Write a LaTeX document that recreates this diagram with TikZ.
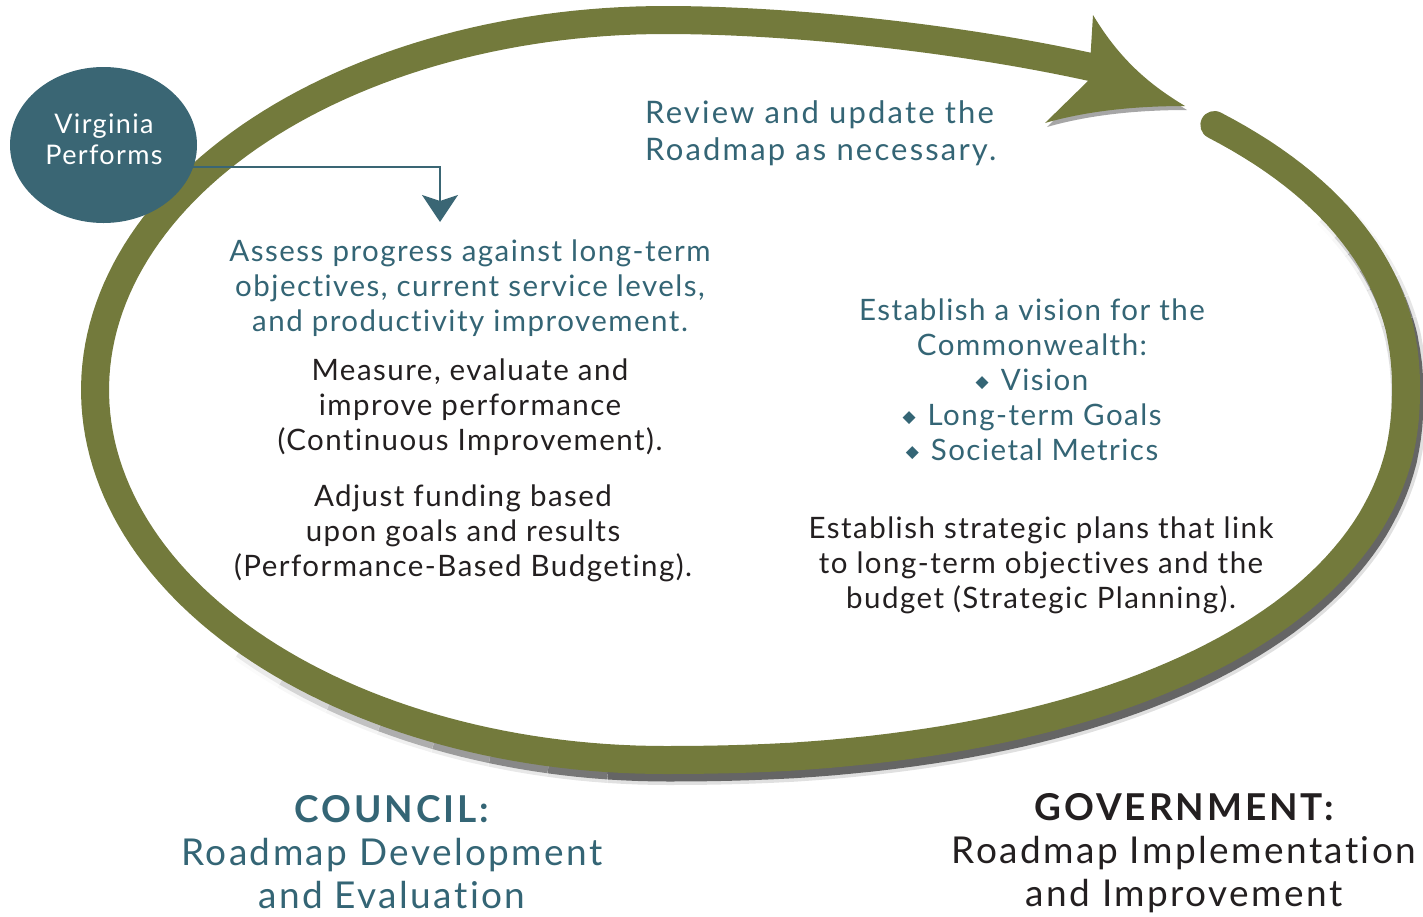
\documentclass[tikz,border=0pt]{standalone}
\usepackage{fontspec}
\setmainfont{Lato}[Ligatures=CommonOff]
\newfontfamily\symfont{DejaVu Sans}
\usetikzlibrary{arrows.meta,shapes.geometric}
\definecolor{ringgreen}{RGB}{115,122,60}
\definecolor{vpteal}{RGB}{58,102,116}
\definecolor{textteal}{RGB}{52,101,117}
\definecolor{textdark}{RGB}{35,31,32}
\newcommand{\diam}{{\symfont\fontsize{17}{17}\selectfont\raisebox{3pt}{◆}}\hspace{12pt}}
\begin{document}
\begin{tikzpicture}[x=1pt,y=-1pt,
  ring/.style={line width=28pt, draw=ringgreen, line cap=round},
  ringshadow/.style={line width=#1, draw=black, xshift=3pt, yshift=-7pt},
  body/.style={font=\fontsize{29.5}{35}\selectfont\addfontfeatures{LetterSpace=5},
               align=center, inner sep=0pt},
  tealtext/.style={body, text=textteal},
  darktext/.style={body, text=textdark},
  bigtext/.style={font=\fontsize{37}{43}\selectfont\addfontfeatures{LetterSpace=6.5},
                  align=center, inner sep=0pt},
  vpline/.style={draw=vpteal, line width=2pt, -{Stealth[length=27pt,width=36pt,inset=6pt]}},
  declare function={
    rsx(\t)=665+741*pow(cos(\t),0.909);
    rtop(\t)=390-369*pow(sin(\t),0.909);
    rbot(\t)=390+370*pow(sin(\t),0.909);
    lx(\t)=665+570*cos(\t);
    ly(\t)=390+370*sin(\t);
  }]
\useasboundingbox (0,0) rectangle (1423,916);

% soft drop shadow along the lower right of the loop, fading out at both ends
\foreach \w/\o in {36pt/0.12, 29pt/0.55} {
  \draw[ringshadow=\w, opacity=\o]
    plot[domain=10:0.5,samples=12] ({rsx(\x)},{rtop(\x)})
    -- plot[domain=0.5:89.5,samples=60] ({rsx(\x)},{rbot(\x)})
    -- plot[domain=90:96,samples=5] ({lx(\x)},{ly(\x)});
  \foreach \a/\f in {10/0.85, 13/0.7, 16/0.55, 19/0.4, 22/0.25, 25/0.1} {
    \draw[ringshadow=\w, opacity=\f*\o]
      plot[domain=\a+3:\a,samples=4] ({rsx(\x)},{rtop(\x)});
  }
  \foreach \a/\f in {96/0.88, 102/0.75, 108/0.62, 114/0.5, 120/0.37, 126/0.25, 132/0.12} {
    \draw[ringshadow=\w, opacity=\f*\o]
      plot[domain=\a:\a+6,samples=5] ({lx(\x)},{ly(\x)});
  }
}

% the loop itself, from the rounded start round to the arrow shaft
\draw[ring]
  plot[domain=44:0.5,samples=30] ({rsx(\x)},{rtop(\x)})
  -- plot[domain=0.5:89.5,samples=60] ({rsx(\x)},{rbot(\x)})
  -- plot[domain=90:270,samples=120] ({lx(\x)},{ly(\x)})
  .. controls (790,20) and (960,38) .. (1095,68);

% arrow head with its shadow
\fill[black, opacity=0.35, xshift=2pt, yshift=-4pt]
  (1093,15) .. controls (1120,60) and (1150,85) .. (1185,106)
  .. controls (1140,106) and (1090,110) .. (1045,123) -- (1089,80) -- cycle;
\fill[ringgreen]
  (1093,15) .. controls (1120,60) and (1150,85) .. (1185,106)
  .. controls (1140,106) and (1090,110) .. (1045,123) -- (1089,80) -- cycle;

% Virginia Performs
\node[ellipse, fill=vpteal, minimum width=187pt, minimum height=156pt, inner sep=0pt]
  (vp) at (103.5,145) {};
\node[text=white, align=center, inner sep=0pt,
      font=\fontsize{27}{31}\selectfont\addfontfeatures{LetterSpace=5}]
  (vplabel) at (104,139) {Virginia\\Performs};
\coordinate (vptarget) at (440,222);
\draw[vpline] (vp.-14) -| (vptarget);

% texts inside the loop
\node[tealtext, anchor=west, align=left,
      font=\fontsize{31}{37}\selectfont\addfontfeatures{LetterSpace=7}] (review) at (645,133)
  {Review and update the\\Roadmap as necessary.};
\node[tealtext] (assess) at (470,288)
  {Assess progress against long-term\\objectives, current service levels,\\and productivity improvement.};
\node[darktext] (measure) at (470,407)
  {Measure, evaluate and\\improve performance\\(Continuous Improvement).};
\node[darktext] (adjust) at (463,533)
  {Adjust funding based\\upon goals and results\\(Performance-Based Budgeting).};
\node[tealtext] (vision) at (1032,380)
  {Establish a vision for the\\Commonwealth:\\\diam Vision\\\diam Long-term Goals\\\diam Societal Metrics};
\node[darktext] (plans) at (1041,565)
  {Establish strategic plans that link\\to long-term objectives and the\\budget (Strategic Planning).};

% captions below the loop
\node[bigtext, text=textteal] (council) at (392,852)
  {{\bfseries\addfontfeatures{LetterSpace=8}COUNCIL:}\\Roadmap Development\\and Evaluation};
\node[bigtext, text=textdark] (gov) at (1184,853)
  {{\bfseries\addfontfeatures{LetterSpace=8}GOVERNMENT:}\\Roadmap Implementation\\and Improvement};
\end{tikzpicture}
\end{document}
